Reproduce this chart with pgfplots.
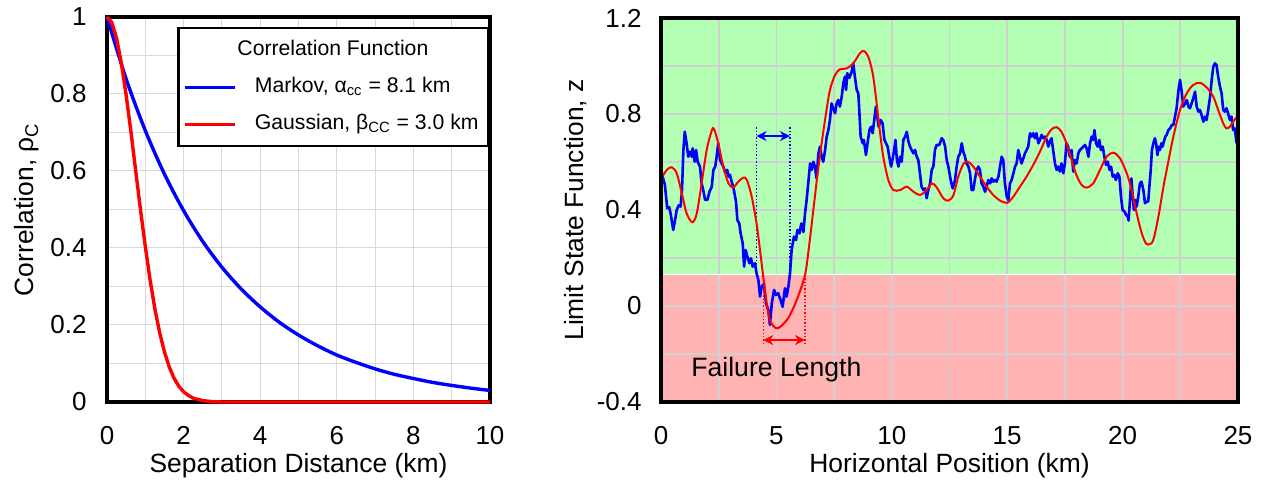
\documentclass[border=0pt]{standalone}
\usepackage{fontspec}
\setmainfont{Liberation Sans}
\usepackage{pgfplots}
\pgfplotsset{compat=1.18}
\usetikzlibrary{arrows.meta}
\definecolor{lgreen}{RGB}{179,255,179}
\definecolor{lred}{RGB}{255,179,179}
\definecolor{gridgray}{RGB}{217,217,217}
\definecolor{gridgray2}{RGB}{208,208,208}
\pgfplotsset{
  myaxis/.style={
    scale only axis,
    axis line style={black, line width=1.8pt},
    major tick length=0pt, minor tick length=0pt,
    grid=both,
    grid style={gridgray, line width=0.5pt},
    minor grid style={gridgray, line width=0.5pt},
    tick label style={font=\fontsize{13}{15}\selectfont},
    label style={font=\fontsize{13.2}{15}\selectfont},
    xticklabel style={anchor=base, yshift=-21.5pt, inner sep=0pt},
    yticklabel style={anchor=east, inner sep=0pt},
    xlabel style={at={(axis description cs:0.5,-0.1836)}, anchor=base},
  },
  gl/.style={gridgray2, line width=0.9pt, forget plot},
}
\begin{document}
\begin{tikzpicture}
% ---------------- left panel ----------------
\begin{axis}[myaxis,
  at={(53.5pt,42pt)}, anchor=south west,
  width=191.5pt, height=192.5pt,
  xmin=0, xmax=10, ymin=0, ymax=1,
  xtick={0,2,4,6,8,10}, xticklabels={0,2,4,6,8,10}, minor x tick num=1,
  ytick={0,0.2,0.4,0.6,0.8,1}, yticklabels={0,0.2,0.4,0.6,0.8,1}, minor y tick num=1,
  yticklabel style={xshift=-10pt},
  xlabel={Separation Distance (km)},
  ylabel={Correlation, ρ\textsubscript{C}},
  ylabel style={at={(axis description cs:-0.192,0.5)}, anchor=base},
  clip=false,
  legend cell align=left,
  legend style={at={(axis description cs:1,1)}, anchor=north east, yshift=-4.85pt,
    draw=black, line width=1.4pt, fill=white,
    inner xsep=2.5pt, inner ysep=5.5pt,
    row sep=7.5pt,
    font=\fontsize{10.6}{12}\selectfont,
    nodes={inner sep=0pt, text height=8pt, text depth=3pt},
    /tikz/every odd column/.append style={column sep=9pt}},
  legend image code/.code={\draw[#1, line width=1.5pt] (0pt,0pt) -- (25pt,0pt);},
]
\addlegendimage{empty legend}
\addlegendentry{\hspace*{-8.7pt}Correlation Function}
\addplot[blue, line width=1.7pt, smooth] table {
x y
0 1
0.5 0.839
1 0.705
1.5 0.592
2 0.497
2.5 0.417
3 0.350
3.5 0.294
4 0.247
4.5 0.207
5 0.174
5.5 0.146
6 0.122
6.5 0.103
7 0.086
7.5 0.072
8 0.061
8.5 0.051
9 0.043
9.5 0.036
10 0.030
};
\addlegendentry{Markov, α\textsubscript{cc} = 8.1 km}
\addplot[red, line width=1.7pt] table {
x y
0 1
0.125 0.986
0.25 0.945
0.375 0.880
0.5 0.797
0.625 0.702
0.75 0.600
0.875 0.499
1.0 0.404
1.125 0.317
1.25 0.242
1.375 0.180
1.5 0.130
1.625 0.091
1.75 0.062
1.875 0.041
2.0 0.0265
2.125 0.017
2.25 0.010
2.5 0.0035
2.75 0.001
3 0
10 0
};
\addlegendentry{Gaussian, β\textsubscript{CC} = 3.0 km\hspace*{2.5pt}}
\end{axis}
% ---------------- right panel ----------------
\begin{axis}[myaxis, axis on top, grid=none,
  at={(330.5pt,42pt)}, anchor=south west,
  width=288.5pt, height=192pt,
  xmin=0, xmax=25, ymin=-0.4, ymax=1.2,
  xtick={0,5,10,15,20,25}, xticklabels={0,5,10,15,20,25}, minor x tick num=1,
  ytick={-0.4,0,0.4,0.8,1.2}, yticklabels={-0.4,0,0.4,0.8,1.2}, minor y tick num=1,
  yticklabel style={xshift=-9.5pt},
  xlabel={Horizontal Position (km)},
  ylabel={Limit State Function, z},
  ylabel style={at={(axis description cs:-0.134,0.5)}, anchor=base},
]
\addplot[draw=none, fill=lgreen, forget plot] coordinates {(0,0.13) (0,1.2) (25,1.2) (25,0.13)};
\addplot[draw=none, fill=lred, forget plot] coordinates {(0,-0.4) (0,0.13) (25,0.13) (25,-0.4)};
% grid lines
\addplot[gl] coordinates {(2.5,-0.4) (2.5,1.2)};
\addplot[gl] coordinates {(5,-0.4) (5,1.2)};
\addplot[gl] coordinates {(7.5,-0.4) (7.5,1.2)};
\addplot[gl] coordinates {(10,-0.4) (10,1.2)};
\addplot[gl] coordinates {(12.5,-0.4) (12.5,1.2)};
\addplot[gl] coordinates {(15,-0.4) (15,1.2)};
\addplot[gl] coordinates {(17.5,-0.4) (17.5,1.2)};
\addplot[gl] coordinates {(20,-0.4) (20,1.2)};
\addplot[gl] coordinates {(22.5,-0.4) (22.5,1.2)};
\addplot[gl] coordinates {(0,-0.2) (25,-0.2)};
\addplot[gl] coordinates {(0,0) (25,0)};
\addplot[gl] coordinates {(0,0.2) (25,0.2)};
\addplot[gl] coordinates {(0,0.4) (25,0.4)};
\addplot[gl] coordinates {(0,0.6) (25,0.6)};
\addplot[gl] coordinates {(0,0.8) (25,0.8)};
\addplot[gl] coordinates {(0,1.0) (25,1.0)};
\addplot[white, line width=0.6pt, forget plot] coordinates {(0,0.13) (25,0.13)};
% annotations
\addplot[blue, densely dotted, line width=0.7pt, forget plot] coordinates {(4.14,0.13) (4.14,0.75)};
\addplot[blue, densely dotted, line width=0.7pt, forget plot] coordinates {(5.59,0.13) (5.59,0.75)};
\addplot[blue, line width=1.1pt, {Stealth[length=5pt,width=5pt]}-{Stealth[length=5pt,width=5pt]}, forget plot] coordinates {(4.14,0.708) (5.59,0.708)};
\addplot[red, densely dotted, line width=0.7pt, forget plot] coordinates {(4.43,0.13) (4.43,-0.165)};
\addplot[red, densely dotted, line width=0.7pt, forget plot] coordinates {(6.24,0.13) (6.24,-0.165)};
\addplot[red, line width=1.1pt, {Stealth[length=5pt,width=5pt]}-{Stealth[length=5pt,width=5pt]}, forget plot] coordinates {(4.43,-0.142) (6.24,-0.142)};
% blue random field
\addplot[blue, line width=1.3pt, line join=round] table {
x y
0 0.53
0.07 0.539
0.17 0.504
0.27 0.407
0.36 0.411
0.42 0.383
0.53 0.317
0.61 0.358
0.68 0.40
0.77 0.42
0.85 0.414
0.91 0.483
0.97 0.650
1.03 0.726
1.11 0.678
1.18 0.622
1.26 0.643
1.33 0.622
1.37 0.657
1.46 0.601
1.52 0.65
1.59 0.601
1.69 0.58
1.76 0.511
1.83 0.483
1.91 0.442
2.01 0.442
2.10 0.476
2.20 0.497
2.27 0.567
2.35 0.581
2.41 0.622
2.48 0.678
2.56 0.608
2.63 0.594
2.70 0.581
2.79 0.553
2.87 0.567
2.93 0.539
2.99 0.546
3.06 0.518
3.13 0.497
3.25 0.435
3.31 0.358
3.39 0.344
3.45 0.303
3.54 0.261
3.60 0.164
3.67 0.233
3.74 0.206
3.83 0.178
3.90 0.199
3.97 0.164
4.07 0.178
4.14 0.136
4.22 0.108
4.29 0.039
4.36 0.081
4.46 0.092
4.55 0.011
4.65 -0.017
4.72 -0.079
4.80 0.011
4.90 0.067
4.98 0.046
5.08 0.053
5.18 0.025
5.27 -0.003
5.37 0.074
5.44 0.039
5.52 0.081
5.59 0.136
5.66 0.233
5.76 0.289
5.85 0.275
5.91 0.317
6.0 0.303
6.08 0.344
6.17 0.308
6.24 0.386
6.31 0.442
6.38 0.511
6.46 0.594
6.53 0.567
6.6 0.601
6.67 0.581
6.74 0.532
6.82 0.636
6.89 0.664
6.96 0.622
7.03 0.601
7.11 0.65
7.18 0.706
7.25 0.733
7.32 0.775
7.39 0.844
7.46 0.824
7.54 0.803
7.61 0.844
7.68 0.858
7.75 0.831
7.83 0.872
7.9 0.928
7.97 0.956
8.02 0.9
8.07 0.97
8.16 0.95
8.26 0.976
8.33 1.011
8.4 0.956
8.48 0.9
8.55 0.886
8.59 0.817
8.65 0.706
8.74 0.678
8.79 0.692
8.88 0.629
8.95 0.678
9.03 0.733
9.1 0.747
9.17 0.72
9.24 0.775
9.31 0.831
9.37 0.789
9.43 0.747
9.52 0.775
9.6 0.761
9.68 0.692
9.75 0.678
9.82 0.664
9.89 0.622
9.97 0.581
10.04 0.615
10.1 0.65
10.16 0.692
10.22 0.608
10.29 0.581
10.36 0.622
10.43 0.601
10.5 0.692
10.58 0.706
10.65 0.726
10.72 0.685
10.79 0.664
10.86 0.65
10.94 0.636
11.01 0.65
11.08 0.622
11.15 0.608
11.22 0.553
11.29 0.497
11.37 0.483
11.44 0.49
11.51 0.449
11.58 0.483
11.66 0.511
11.73 0.567
11.8 0.581
11.87 0.65
11.94 0.671
12.06 0.671
12.16 0.699
12.23 0.692
12.31 0.664
12.38 0.608
12.45 0.581
12.55 0.525
12.64 0.49
12.74 0.525
12.81 0.581
12.88 0.622
12.96 0.636
13.03 0.678
13.1 0.643
13.17 0.622
13.24 0.594
13.32 0.581
13.39 0.553
13.46 0.483
13.53 0.483
13.61 0.532
13.68 0.567
13.75 0.581
13.82 0.567
13.89 0.511
13.97 0.497
14.04 0.476
14.11 0.497
14.18 0.525
14.26 0.511
14.33 0.532
14.4 0.518
14.47 0.525
14.54 0.518
14.62 0.539
14.69 0.581
14.76 0.622
14.83 0.608
14.9 0.511
14.98 0.456
15.05 0.442
15.12 0.511
15.19 0.525
15.27 0.553
15.34 0.581
15.41 0.594
15.48 0.65
15.55 0.622
15.62 0.594
15.7 0.615
15.77 0.636
15.84 0.65
15.91 0.664
15.99 0.72
16.06 0.706
16.13 0.72
16.2 0.699
16.27 0.72
16.35 0.678
16.42 0.692
16.49 0.713
16.56 0.699
16.63 0.706
16.71 0.692
16.78 0.664
16.85 0.685
16.92 0.699
16.99 0.65
17.07 0.594
17.14 0.567
17.21 0.581
17.28 0.56
17.35 0.594
17.43 0.553
17.5 0.594
17.57 0.678
17.64 0.664
17.71 0.622
17.79 0.65
17.86 0.56
17.93 0.608
18.01 0.594
18.08 0.636
18.15 0.65
18.23 0.657
18.3 0.664
18.37 0.671
18.44 0.657
18.52 0.622
18.59 0.678
18.66 0.706
18.73 0.692
18.78 0.733
18.85 0.678
18.92 0.664
18.99 0.692
19.06 0.65
19.14 0.664
19.21 0.622
19.28 0.588
19.36 0.601
19.43 0.567
19.5 0.581
19.57 0.539
19.64 0.546
19.71 0.525
19.79 0.553
19.86 0.539
19.93 0.456
20.0 0.4
20.08 0.394
20.15 0.38
20.22 0.373
20.26 0.356
20.32 0.442
20.38 0.532
20.44 0.456
20.49 0.4
20.55 0.442
20.61 0.414
20.68 0.456
20.75 0.511
20.82 0.518
20.9 0.483
20.97 0.428
21.04 0.435
21.11 0.435
21.16 0.497
21.22 0.567
21.27 0.65
21.33 0.678
21.4 0.699
21.45 0.678
21.51 0.629
21.56 0.664
21.62 0.65
21.68 0.678
21.73 0.664
21.79 0.685
21.85 0.706
21.91 0.713
21.98 0.733
22.06 0.74
22.13 0.754
22.2 0.754
22.27 0.789
22.34 0.824
22.42 0.9
22.49 0.942
22.56 0.893
22.63 0.831
22.71 0.844
22.78 0.858
22.85 0.831
22.92 0.824
22.99 0.844
23.06 0.865
23.14 0.893
23.21 0.831
23.28 0.81
23.35 0.817
23.42 0.796
23.5 0.768
23.57 0.789
23.64 0.775
23.71 0.817
23.79 0.872
23.86 0.942
23.93 0.997
24.0 1.011
24.07 1.004
24.14 0.956
24.22 0.914
24.29 0.886
24.36 0.817
24.43 0.81
24.5 0.824
24.57 0.803
24.65 0.775
24.72 0.789
24.79 0.733
24.86 0.74
24.93 0.685
24.98 0.67
};
% red smooth field
\addplot[red, line width=1.0pt, smooth] table {
x y
0 0.53
0.25 0.567
0.46 0.578
0.68 0.553
0.9 0.47
1.11 0.386
1.36 0.349
1.55 0.386
1.76 0.511
1.98 0.65
2.2 0.731
2.3 0.737
2.48 0.678
2.7 0.581
2.92 0.511
3.13 0.494
3.35 0.518
3.57 0.535
3.72 0.525
3.93 0.456
4.14 0.344
4.29 0.233
4.43 0.122
4.58 0.011
4.72 -0.058
4.88 -0.085
5.05 -0.093
5.25 -0.08
5.44 -0.06
5.59 -0.0375
5.88 0.025
6.24 0.129
6.43 0.261
6.6 0.40
6.77 0.539
6.96 0.678
7.15 0.803
7.32 0.90
7.54 0.962
7.75 0.986
8.05 0.99
8.33 1.011
8.62 1.053
8.79 1.063
8.98 1.039
9.17 0.97
9.31 0.872
9.46 0.747
9.63 0.622
9.85 0.525
10.07 0.483
10.36 0.483
10.65 0.497
10.94 0.476
11.22 0.4625
11.51 0.483
11.73 0.511
11.94 0.495
12.23 0.449
12.45 0.439
12.67 0.462
12.88 0.539
13.1 0.592
13.29 0.601
13.53 0.581
13.82 0.539
14.11 0.497
14.4 0.462
14.69 0.439
15.0 0.43
15.27 0.456
15.55 0.497
15.84 0.539
16.13 0.588
16.42 0.643
16.71 0.706
16.92 0.736
17.14 0.745
17.35 0.726
17.57 0.678
17.79 0.608
18.0 0.545
18.23 0.504
18.44 0.493
18.73 0.511
19.02 0.567
19.31 0.622
19.6 0.639
19.89 0.615
20.18 0.553
20.39 0.483
20.61 0.386
20.83 0.303
21.01 0.261
21.16 0.257
21.33 0.275
21.55 0.372
21.77 0.497
21.91 0.567
22.2 0.706
22.49 0.817
22.78 0.886
23.06 0.921
23.35 0.93
23.64 0.911
23.93 0.872
24.14 0.817
24.36 0.761
24.5 0.74
24.65 0.747
24.79 0.768
24.94 0.786
25 0.79
};
\node[font=\fontsize{13.3}{15}\selectfont, anchor=base] at (axis cs:5.0,-0.295) {Failure Length};
\end{axis}
\useasboundingbox (0,0) rectangle (633pt,243pt);
\end{tikzpicture}
\end{document}
